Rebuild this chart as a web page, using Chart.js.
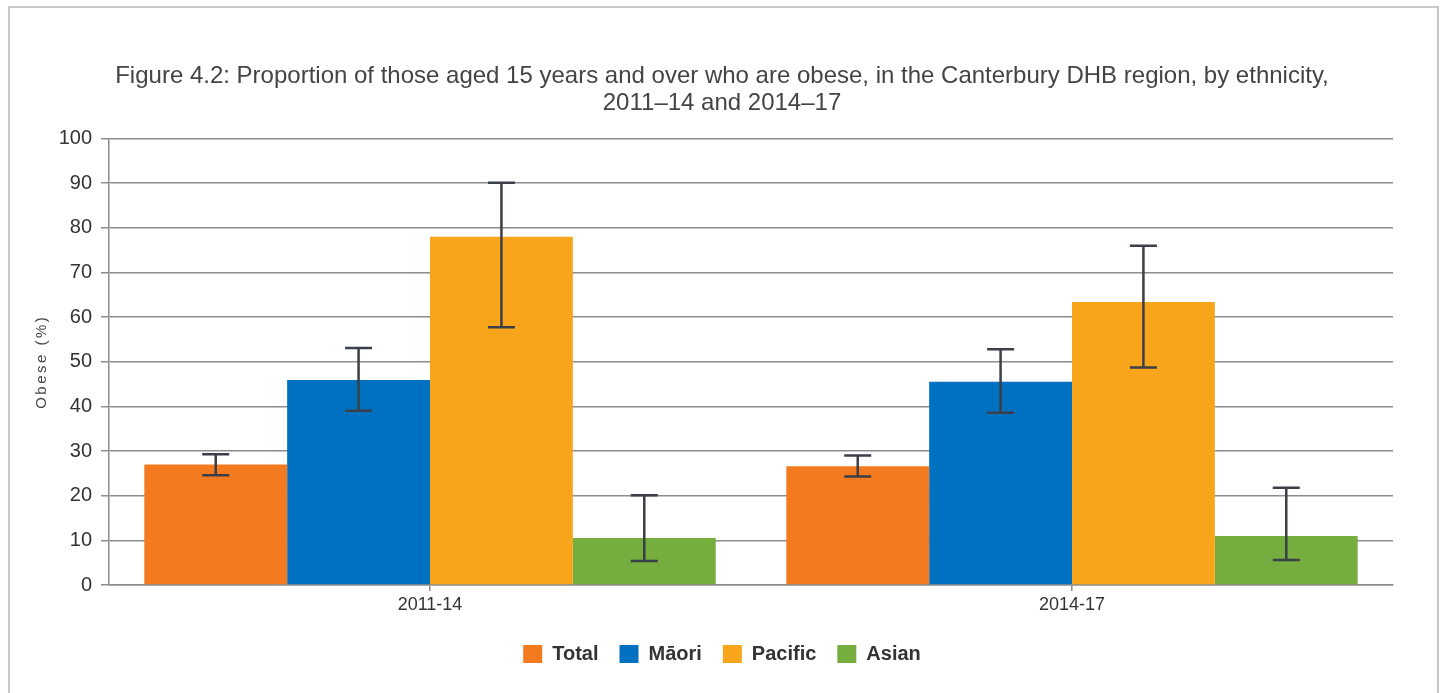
<!DOCTYPE html>
<html>
<head>
<meta charset="utf-8">
<title>Figure 4.2</title>
<script src="https://cdn.jsdelivr.net/npm/chart.js@4.4.1/dist/chart.umd.min.js"></script>
<style>
    body { margin: 0; background: #fff; }
    .wrap { position: relative; width: 1444px; height: 693px; }
    .frame {
        position: absolute; left: 8px; top: 6px; width: 1427px; height: 720px;
        border: 2px solid #c8c8c8; pointer-events: none;
    }
</style>
</head>
<body>
<div class="wrap">
    <canvas id="obeseChart"></canvas>
    <div class="frame"></div>
</div>
<script>
// Data
const categories = ['2011-14', '2014-17'];
const seriesNames = ['Total', 'Māori', 'Pacific', 'Asian'];

const totalValues = [27.0, 26.6];
const totalLow = [24.6, 24.3];
const totalHigh = [29.3, 29.0];

const maoriValues = [45.9, 45.5];
const maoriLow = [39.0, 38.6];
const maoriHigh = [53.1, 52.8];

const pacificValues = [78.0, 63.4];
const pacificLow = [57.7, 48.7];
const pacificHigh = [90.1, 76.0];

const asianValues = [10.5, 11.0];
const asianLow = [5.4, 5.6];
const asianHigh = [20.1, 21.8];

const yTicks = [0, 10, 20, 30, 40, 50, 60, 70, 80, 90, 100];
const yTitle = 'Obese (%)';

const colours = ['#f47a20', '#0070c0', '#f9a51b', '#76ad3f'];
const gridColour = '#8c8c8c';

document.addEventListener('DOMContentLoaded', function() {
    const ctx = document.getElementById('obeseChart').getContext('2d');

    const values = [totalValues, maoriValues, pacificValues, asianValues];
    const lows = [totalLow, maoriLow, pacificLow, asianLow];
    const highs = [totalHigh, maoriHigh, pacificHigh, asianHigh];

    // Draw the confidence interval whiskers on top of each bar
    const errorBars = {
        id: 'errorBars',
        afterDatasetsDraw(chart) {
            const c = chart.ctx;
            const y = chart.scales.y;
            c.save();
            c.strokeStyle = '#3b3f48';
            c.lineWidth = 2.5;
            chart.data.datasets.forEach((ds, i) => {
                const meta = chart.getDatasetMeta(i);
                meta.data.forEach((bar, j) => {
                    const top = y.getPixelForValue(ds.high[j]);
                    const bottom = y.getPixelForValue(ds.low[j]);
                    const half = 13.5;
                    c.beginPath();
                    c.moveTo(bar.x, top);
                    c.lineTo(bar.x, bottom);
                    c.moveTo(bar.x - half, top);
                    c.lineTo(bar.x + half, top);
                    c.moveTo(bar.x - half, bottom);
                    c.lineTo(bar.x + half, bottom);
                    c.stroke();
                });
            });
            c.restore();
        }
    };

    // Y axis title, letter spaced like the original
    const axisTitle = {
        id: 'axisTitle',
        afterDraw(chart) {
            const c = chart.ctx;
            const area = chart.chartArea;
            c.save();
            c.translate(42, (area.top + area.bottom) / 2);
            c.rotate(-Math.PI / 2);
            c.font = '15px "Liberation Sans"';
            c.letterSpacing = '2.5px';
            c.fillStyle = '#444';
            c.textAlign = 'center';
            c.textBaseline = 'middle';
            c.fillText(yTitle, 0, 0);
            c.restore();
        }
    };

    new Chart(ctx, {
        type: 'bar',
        data: {
            labels: categories,
            datasets: seriesNames.map((name, i) => ({
                label: name,
                data: values[i],
                low: lows[i],
                high: highs[i],
                backgroundColor: colours[i],
                borderWidth: 0,
                categoryPercentage: 0.89,
                barPercentage: 1.0
            }))
        },
        options: {
            responsive: true,
            maintainAspectRatio: false,
            animation: false,
            layout: {
                padding: { left: 0, right: 0, top: 0, bottom: 19 }
            },
            plugins: {
                title: {
                    display: true,
                    text: [
                        'Figure 4.2: Proportion of those aged 15 years and over who are obese, in the Canterbury DHB region, by ethnicity,',
                        '2011\u201314 and 2014\u201317'
                    ],
                    color: '#444',
                    font: { family: 'Liberation Sans', size: 24, weight: 'normal', lineHeight: 1.125 },
                    padding: { top: 62.5, bottom: 22 }
                },
                legend: {
                    position: 'bottom',
                    labels: {
                        boxWidth: 19,
                        boxHeight: 18,
                        padding: 21,
                        color: '#333',
                        font: { family: 'Liberation Sans', size: 20, weight: 'bold' }
                    }
                },
                tooltip: { enabled: false }
            },
            scales: {
                x: {
                    afterFit(scale) { scale.height = 38; },
                    grid: {
                        display: true,
                        drawOnChartArea: false,
                        offset: false,
                        tickLength: 6,
                        color: gridColour,
                        lineWidth: 1.5
                    },
                    border: { color: gridColour, width: 1.5 },
                    ticks: {
                        color: '#333',
                        padding: 3,
                        font: { family: 'Liberation Sans', size: 18 }
                    }
                },
                y: {
                    min: 0,
                    max: 100,
                    afterFit(scale) { scale.width = 109; },
                    afterBuildTicks(scale) {
                        scale.ticks = yTicks.map(v => ({ value: v }));
                    },
                    grid: {
                        color: gridColour,
                        lineWidth: 1.5,
                        tickLength: 8
                    },
                    border: { color: gridColour, width: 1.5 },
                    ticks: {
                        color: '#333',
                        padding: 9,
                        font: { family: 'Liberation Sans', size: 20 }
                    }
                },
                // empty right-hand axis that only reserves the margin
                yRight: {
                    position: 'right',
                    min: 0,
                    max: 100,
                    afterFit(scale) { scale.width = 51; },
                    grid: { display: false },
                    border: { display: false },
                    ticks: { display: false }
                }
            }
        },
        plugins: [errorBars, axisTitle]
    });
});
</script>
</body>
</html>
